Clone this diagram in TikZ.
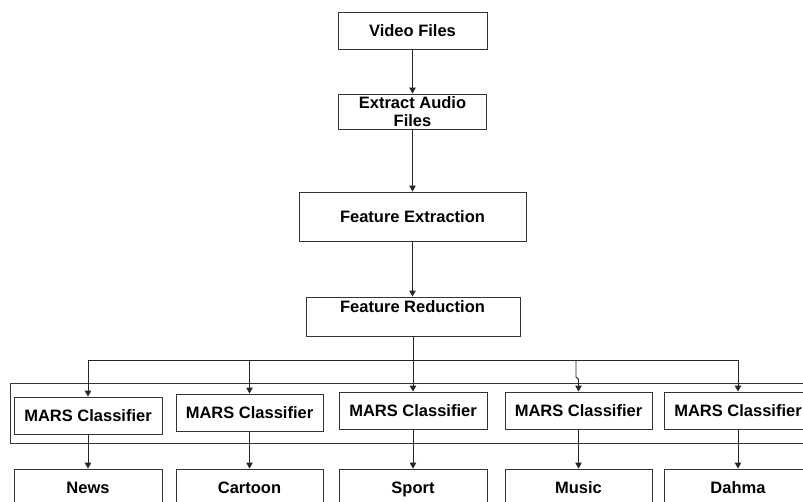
\documentclass[tikz,border=0pt]{standalone}
\usepackage{fontspec}
\setmainfont{Liberation Sans}
\usetikzlibrary{arrows.meta}
\begin{document}
\begin{tikzpicture}[x=1pt,y=-1pt,
  frame/.style={draw=black!80,line width=0.9pt,rectangle,inner sep=0pt,
    font=\fontsize{16.5}{18.5}\selectfont\bfseries},
  box/.style={frame,text height=12pt,text depth=0pt},
  conn/.style={draw=black!85,line width=0.9pt},
  arr/.style={conn,-{Triangle[length=6pt,width=6.5pt]}},
  lbl/.style={font=\fontsize{16.5}{18.5}\selectfont\bfseries,inner sep=0pt}]
\useasboundingbox (0,0) rectangle (803,501);
\clip (0,0) rectangle (803,501);
% top chain
\node[box,minimum width=149pt,minimum height=37pt] (vf) at (412.5,30.5) {Video Files};
\node[frame,minimum width=148pt,minimum height=35pt] (ea) at (412.5,111.5) {};
\node[lbl,align=center,anchor=base] (eat) at (412.5,126.5) {Extract Audio\\[-0.5pt]Files};
\node[box,minimum width=227pt,minimum height=49pt] (fe) at (412.5,216.5) {Feature Extraction};
\node[frame,minimum width=214pt,minimum height=39pt] (fr) at (413,316.5) {};
\node[lbl,anchor=base] (frt) at (412.5,312.5) {Feature Reduction};
% outer frame
\node[frame,minimum width=810pt,minimum height=60pt] (outer) at (415.5,413) {};
% classifiers
\node[box,minimum width=148pt,minimum height=37pt] (m1) at (88,415.5) {MARS Classifier};
\node[box,minimum width=147pt,minimum height=37pt] (m2) at (249.5,412.5) {MARS Classifier};
\node[box,minimum width=148pt,minimum height=37pt] (m3) at (413,410.5) {MARS Classifier};
\node[box,minimum width=147pt,minimum height=37pt] (m4) at (578.5,410.5) {MARS Classifier};
\node[box,minimum width=148pt,minimum height=37pt] (m5) at (738,410.5) {MARS Classifier};
% outputs
\node[box,minimum width=148pt,minimum height=36pt] (o1) at (88,487) {News};
\node[box,minimum width=147pt,minimum height=36pt] (o2) at (249.5,487) {Cartoon};
\node[box,minimum width=148pt,minimum height=36pt] (o3) at (413,487) {Sport};
\node[box,minimum width=147pt,minimum height=36pt] (o4) at (578.5,487) {Music};
\node[box,minimum width=148pt,minimum height=36pt] (o5) at (738,487) {Dahma};
% connectors top
\draw[arr] (vf.south) -- (ea.north);
\draw[arr] (ea.south) -- (fe.north);
\draw[arr] (fe.south) -- (fe.south |- fr.north);
% bus
\coordinate (bus) at (413,360);
\coordinate (b1) at (88,360);
\coordinate (b2) at (249.5,360);
\coordinate (b4) at (576,360);
\coordinate (b5) at (738,360);
\coordinate (j4a) at (576,377);
\coordinate (j4b) at (578.5,379);
\draw[conn] (fr.south) -- (bus);
\draw[conn] (b1) -- (b5);
\draw[arr] (b1) -- (m1.north);
\draw[arr] (b2) -- (m2.north);
\draw[arr] (bus) -- (m3.north);
\draw[arr] (b4) -- (j4a) -- (j4b) -- (m4.north);
\draw[arr] (b5) -- (m5.north);
% classifier to output
\draw[arr] (m1.south) -- (o1.north);
\draw[arr] (m2.south) -- (o2.north);
\draw[arr] (m3.south) -- (o3.north);
\draw[arr] (m4.south) -- (o4.north);
\draw[arr] (m5.south) -- (o5.north);
\end{tikzpicture}
\end{document}
